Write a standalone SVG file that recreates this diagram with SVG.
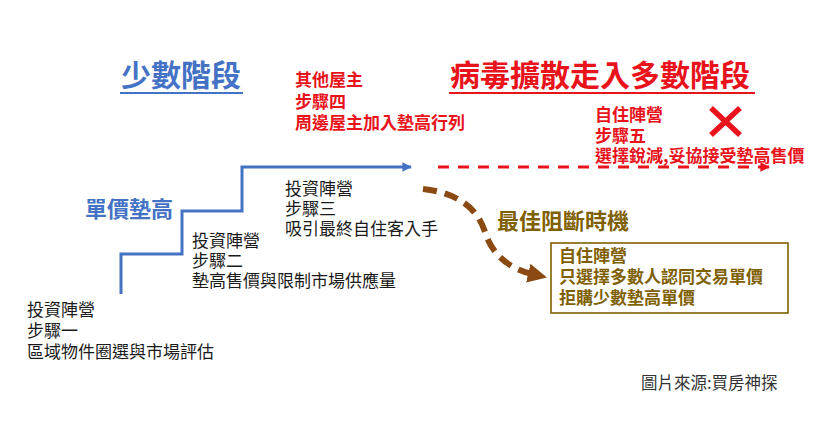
<svg xmlns="http://www.w3.org/2000/svg" width="826" height="442" viewBox="0 0 826 442">
<defs>
<style>
text{font-family:"Noto Sans CJK TC","Noto Sans CJK SC",sans-serif}
.title{font-size:30px;font-weight:bold}
.blue{fill:#4472C4}
.red{fill:#E8131B}
.gold{fill:#7F6000}
.blk{fill:#1a1a1a;font-size:17px}
.rb{font-size:17px;font-weight:bold}
</style>
<marker id="ab" viewBox="0 0 10 10" refX="9" refY="5" markerWidth="3.2" markerHeight="3.2" orient="auto" markerUnits="strokeWidth"><path d="M0,0L10,5L0,10z" fill="#4472C4"/></marker>
<marker id="ar" viewBox="0 0 10 10" refX="9" refY="5" markerWidth="3.2" markerHeight="3.2" orient="auto" markerUnits="strokeWidth"><path d="M0,0L10,5L0,10z" fill="#E8131B"/></marker>
<marker id="abr" viewBox="0 0 10 10" refX="2" refY="5" markerWidth="3.2" markerHeight="3.2" orient="auto" markerUnits="strokeWidth"><path d="M0,0L10,5L0,10z" fill="#8A4A12"/></marker>
</defs>
<rect width="826" height="442" fill="#fff"/>

<g id="title-minority">
<text class="title blue" x="121" y="86">少數階段</text>
<line x1="120" y1="93" x2="243" y2="93" stroke="#4472C4" stroke-width="2.2"/>
</g>
<g id="title-majority">
<text class="title red" x="450" y="86">病毒擴散走入多數階段</text>
<line x1="449" y1="93" x2="755" y2="93" stroke="#E8131B" stroke-width="2.2"/>
</g>

<g id="connectors">
<path d="M121,294V254H182V211H242V167H411" fill="none" stroke="#4472C4" stroke-width="3" marker-end="url(#ab)"/>
<line x1="438" y1="167" x2="769" y2="167" stroke="#E8131B" stroke-width="3" stroke-dasharray="11,9" marker-end="url(#ar)"/>
<path d="M423,189C460,193 478,210 485,232C492,255 510,269 532,274" fill="none" stroke="#8A4A12" stroke-width="6" stroke-dasharray="14,8" marker-end="url(#abr)"/>
</g>

<g id="label-price">
<text class="blue" x="85" y="217" font-size="22" font-weight="bold">單價墊高</text>
</g>

<g id="step1">
<text class="blk" x="27" y="316">投資陣營</text>
<text class="blk" x="27" y="337">步驟一</text>
<text class="blk" x="27" y="358">區域物件圈選與市場評估</text>
</g>
<g id="step2">
<text class="blk" x="192" y="247">投資陣營</text>
<text class="blk" x="192" y="267">步驟二</text>
<text class="blk" x="192" y="287">墊高售價與限制市場供應量</text>
</g>
<g id="step3">
<text class="blk" x="285" y="195">投資陣營</text>
<text class="blk" x="285" y="215">步驟三</text>
<text class="blk" x="285" y="235">吸引最終自住客入手</text>
</g>
<g id="step4">
<text class="rb red" x="295" y="86">其他屋主</text>
<text class="rb red" x="295" y="107.5">步驟四</text>
<text class="rb red" x="295" y="129">周邊屋主加入墊高行列</text>
</g>
<g id="step5">
<text class="rb red" x="595" y="121">自住陣營</text>
<text class="rb red" x="595" y="141.5">步驟五</text>
<text class="rb red" x="595" y="162">選擇銳減,妥協接受墊高售價</text>
</g>
<g id="cross">
<path d="M711,108L740,135M740,108L711,135" stroke="#E8131B" stroke-width="5.5" fill="none"/>
</g>
<g id="label-timing">
<text class="gold" x="497" y="229" font-size="22" font-weight="bold">最佳阻斷時機</text>
</g>
<g id="box-owner">
<rect x="551" y="243" width="237" height="70" fill="#fff" stroke="#7F6000" stroke-width="1.6"/>
<text class="rb gold" x="559" y="262">自住陣營</text>
<text class="rb gold" x="559" y="283">只選擇多數人認同交易單價</text>
<text class="rb gold" x="559" y="304">拒購少數墊高單價</text>
</g>
<g id="source">
<text x="641" y="389" font-size="16.5" fill="#333">圖片來源:買房神探</text>
</g>
</svg>
